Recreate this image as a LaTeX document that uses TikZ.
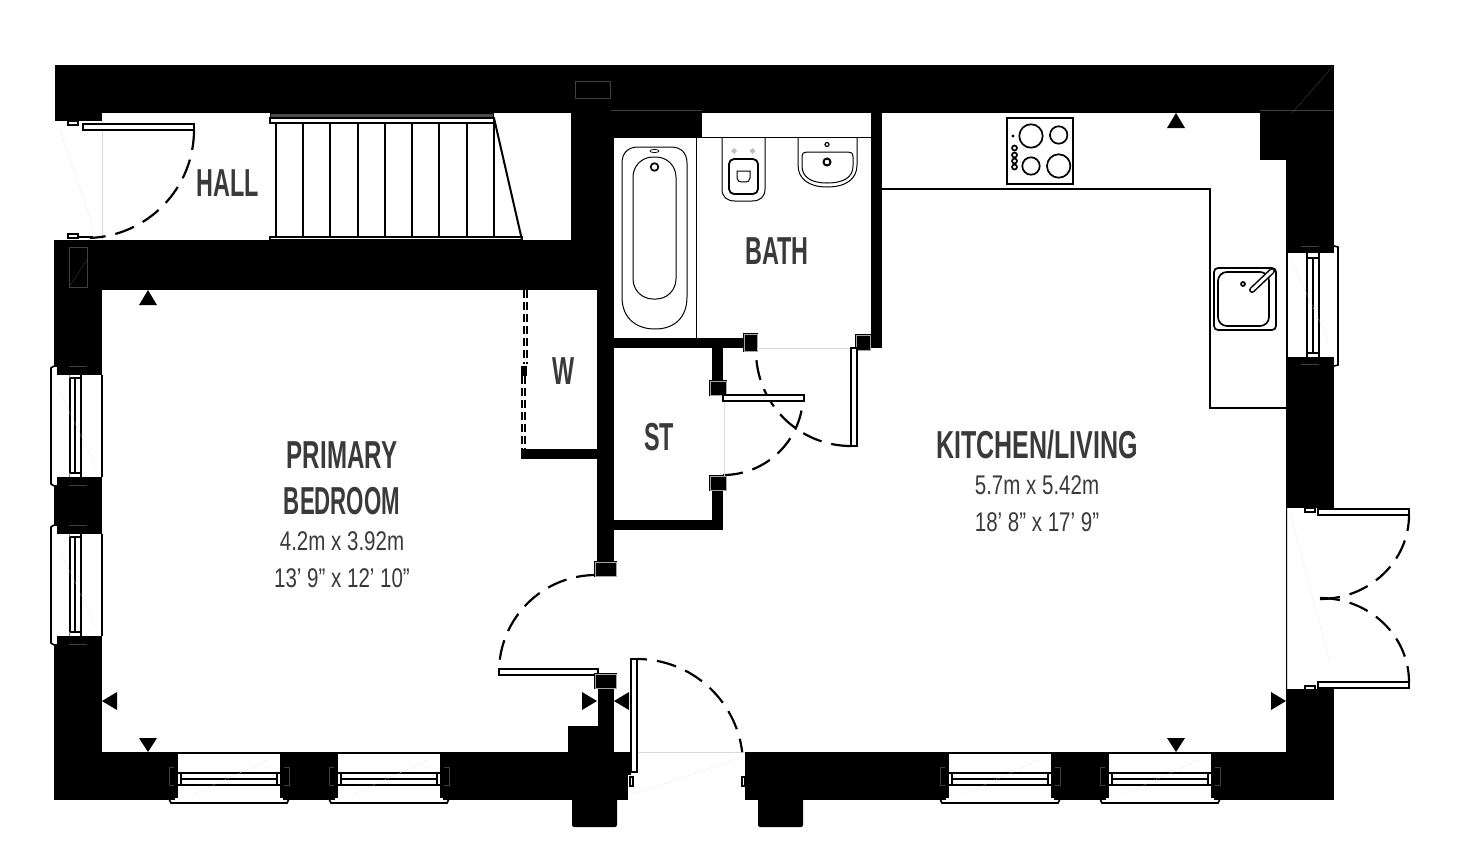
\documentclass[tikz,border=0pt]{standalone}
\usepackage{fontspec}
\newfontfamily\titlefont[FakeStretch=0.6]{Liberation Sans}
\newfontfamily\sizefont[FakeStretch=0.76]{Liberation Sans}
\definecolor{labelgrey}{HTML}{3A3A3A}
\tikzset{
	wall/.style={fill=black},
	opening/.style={fill=white},
	leaf/.style={draw=black, fill=white, line width=2.2},
	swing/.style={line width=2.2, dash pattern=on 20 off 10},
	jamb/.style={draw=black, fill=black, line width=0.8, double=gray!70, double distance=0.8},
	notch/.style={draw=black, fill=white, line width=1.5},
	detail/.style={draw=gray!50!black, line width=0.4},
	faint/.style={draw=gray!30, line width=0.7},
	trace/.style={draw=gray!30, line width=0.5, densely dotted},
	fitting/.style={draw=black, line width=1.7},
	glass/.style={draw=black, line width=1.6},
	marker/.style={fill=black},
	roomtitle/.style={inner sep=0, text=labelgrey, font=\titlefont\bfseries\fontsize{39}{39}\selectfont},
	roomsize/.style={inner sep=0, text=labelgrey, font=\sizefont\fontsize{27}{27}\selectfont}
}

\begin{document}
\begin{tikzpicture}[x=1pt, y=-1pt]
	\useasboundingbox (0,0) rectangle (1467,847);
	\fill[white] (0,0) rectangle (1467,847);

	% outer walls
	\fill[wall] (55,65) rectangle (1334,113);
	\fill[wall] (55,113) rectangle (102,121);
	\fill[wall] (54,240) rectangle (102,800);
	\fill[wall] (1286,65) rectangle (1334,800);
	\fill[wall] (54,752) rectangle (631,800);
	\fill[wall] (745,752) rectangle (1334,800);
	\fill[wall, rounded corners=2] (572,790) rectangle (617,827);
	\fill[wall, rounded corners=2] (758,790) rectangle (803,827);

	% inner walls
	\fill[wall] (54,240) rectangle (614,290);
	\fill[wall] (571,113) rectangle (614,290);
	\fill[wall] (611,113) rectangle (702,138);
	\fill[wall] (597,290) rectangle (614,575);
	\fill[wall] (521,449) rectangle (597,459);
	\fill[wall] (614,338) rectangle (757,348);
	\fill[wall] (871,113) rectangle (882,348);
	\fill[wall] (858,338) rectangle (882,348);
	\fill[wall] (712,348) rectangle (723,395);
	\fill[wall] (712,477) rectangle (723,530);
	\fill[wall] (614,520) rectangle (723,530);
	\fill[wall] (598,675) rectangle (614,752);
	\fill[wall] (568,726) rectangle (598,752);
	\fill[wall] (1260,113) rectangle (1286,160);

	% flue, wall details
	\draw[detail, line width=0.7] (575,81) rectangle (610,98);
	\draw[detail] (611,110) -- (702,110);
	\draw[detail] (1260,110) -- (1333,110);
	\draw[detail] (1292,113) -- (1333,66);
	\draw[detail] (69,247) rectangle (87,287);
	\draw[detail] (69,287) -- (87,260);

	% windows, bottom
	\foreach \wx in {178,338,949,1109} {
		\fill[opening] (\wx,753) rectangle (\wx+102,803);
		\fill[opening] (\wx-3,798) rectangle (\wx+105,803);
		\fill[opening] (\wx-9,800) rectangle (\wx+111,803);
		\draw[glass] (\wx,753) -- (\wx+102,753);
		\draw[glass] (\wx-9,799) -- (\wx-7,803) -- (\wx+109,803) -- (\wx+111,799);
		\draw[glass] (\wx,773) -- (\wx+102,773);
		\draw[glass] (\wx+3,779) -- (\wx+99,779);
		\draw[glass] (\wx,785) -- (\wx+102,785);
		\draw[glass] (\wx+3,773) -- (\wx+3,785);
		\draw[glass] (\wx+99,773) -- (\wx+99,785);
		\draw[trace] (\wx+16,794) -- (\wx+92,759);
		\draw[detail] (\wx-4,767) -- (\wx-9,767) -- (\wx-9,785) -- (\wx-4,785);
		\draw[detail] (\wx+106,767) -- (\wx+111,767) -- (\wx+111,785) -- (\wx+106,785);
	}

	% windows, left
	\foreach \wy in {375,534} {
		\fill[opening] (57,\wy) rectangle (102,\wy+102);
		\fill[opening] (52,\wy-8) rectangle (57,\wy+110);
		\draw[glass] (54,\wy-9) -- (51,\wy-7) -- (51,\wy+109) -- (54,\wy+111);
		\draw[glass] (102,\wy) -- (102,\wy+102);
		\draw[line width=0.9, draw=gray] (69,\wy) -- (69,\wy+102);
		\draw[glass] (70,\wy+3) -- (81,\wy+3);
		\draw[glass] (70,\wy+98) -- (81,\wy+98);
		\draw[glass] (70,\wy+3) -- (70,\wy+98);
		\draw[glass] (75,\wy+3) -- (75,\wy+98);
		\draw[glass] (81,\wy) -- (81,\wy+102);
		\draw[trace] (60,\wy+17) -- (96,\wy+92);
		\draw[detail] (69,\wy-9) -- (87,\wy-9);
		\draw[detail] (69,\wy+110) -- (87,\wy+110);
	}

	% window, right
	\fill[opening] (1287,253) rectangle (1334,357);
	\fill[opening] (1334,247) rectangle (1337,363);
	\draw[glass] (1287,253) -- (1287,357);
	\draw[glass] (1334,246) -- (1338,247) -- (1338,365) -- (1334,366);
	\draw[glass] (1307,253) -- (1307,357);
	\draw[glass] (1313,258) -- (1313,353);
	\draw[glass] (1319,253) -- (1319,357);
	\draw[glass] (1307,258) -- (1319,258);
	\draw[glass] (1307,353) -- (1319,353);
	\draw[trace] (1292,262) -- (1329,342);
	\draw[detail] (1301,246) -- (1319,246);
	\draw[detail] (1301,364) -- (1319,364);

	% garden doors
	\fill[opening] (1287,508) rectangle (1340,689);
	\draw[faint] (1287,508) -- (1287,689);
	\draw[trace] (1290,512) -- (1329,660);
	\draw[notch] (1305,508) rectangle (1315,512);
	\draw[notch] (1305,686) rectangle (1315,690);
	\draw[swing] (1320,599) arc[start angle=90, end angle=0, x radius=89, y radius=84];
	\draw[swing] (1320,598) arc[start angle=-90, end angle=0, x radius=89, y radius=84];
	\draw[leaf] (1318,509) rectangle (1409,515);
	\draw[leaf] (1318,682) rectangle (1409,688);

	% front door
	\fill[opening] (55,121) rectangle (102,240);
	\draw[faint] (102,121) -- (102,240);
	\draw[trace] (60,130) -- (97,238);
	\draw[notch] (68,121) rectangle (78,125);
	\draw[notch] (68,234) rectangle (78,238);
	\draw[leaf] (83,124) rectangle (194,130);
	\draw[swing] (194,130) arc[start angle=0, end angle=88, radius=108];
	\draw[line width=2] (78,237) -- (93,237);

	% entrance door
	\fill[opening] (631,752) rectangle (745,800);
	\fill[opening] (628,775) rectangle (631,800);
	\draw[faint] (637,752) -- (745,752);
	\draw[trace] (630,795) -- (743,757);
	\draw[notch] (630,777) rectangle (633,786);
	\draw[notch] (742,777) rectangle (745,786);
	\draw[swing, dash phase=10] (637,659) arc[start angle=-90, end angle=-7, radius=106];
	\draw[leaf] (631,659) rectangle (637,772);

	% bedroom door
	\draw[swing] (596,575) arc[start angle=270, end angle=180, radius=97];
	\draw[jamb] (595,562) rectangle (616,576);
	\draw[leaf] (499,669) rectangle (598,675);
	\draw[jamb] (595,674) rectangle (616,688);

	% bath door
	\draw[swing] (851,446) arc[start angle=90, end angle=180, radius=95];
	\draw[jamb] (744,334) rectangle (757,351);
	\draw[jamb] (856,335) rectangle (870,350);
	\draw[faint] (757,348) -- (851,348);
	\draw[leaf] (851,348) rectangle (857,446);

	% store door
	\draw[swing] (723,475) arc[start angle=90, end angle=0, radius=80];
	\draw[jamb] (710,381) rectangle (726,395);
	\draw[jamb] (710,476) rectangle (726,490);
	\draw[faint] (724,401) -- (724,476);
	\draw[leaf] (723,395) rectangle (804,401);

	% wardrobe doors
	\draw[line width=2, dash pattern=on 8 off 4] (523.5,290) -- (523.5,364);
	\draw[line width=2, dash pattern=on 8 off 4] (526.5,290) -- (526.5,364);
	\draw[line width=2, dash pattern=on 8 off 4] (521.5,376) -- (521.5,449);
	\draw[line width=2, dash pattern=on 8 off 4] (524.5,376) -- (524.5,449);
	\fill[wall] (521,366) rectangle (527,376);

	% stairs
	\draw[line width=0.8, fill=gray!60!black] (270,113) rectangle (493,118);
	\draw[leaf] (270,118) rectangle (494,123);
	\foreach \tx in {276,303,330,358,385,412,439,467,494}
		\draw[line width=2] (\tx,123) -- (\tx,238);
	\draw[leaf, line width=1.5] (270,237) rectangle (522,240);
	\draw[line width=2] (494,118) -- (522,240);

	% counter
	\draw[line width=2.2] (882,189) -- (1210,189) -- (1210,408) -- (1286,408);

	% hob
	\draw[fitting, line width=2] (1007,118) rectangle (1073,184);
	\draw[fitting] (1031,136) circle [radius=11.7];
	\draw[fitting] (1058.7,135) circle [radius=8.7];
	\draw[fitting] (1031,166) circle [radius=8.7];
	\draw[fitting] (1058.7,166) circle [radius=11.7];
	\fill (1013,136) circle [radius=1.7];
	\foreach \ky in {148,155,161,167}
		\draw[fitting] (1014.5,\ky) circle [radius=2.5];

	% kitchen sink
	\draw[fitting, rounded corners=4] (1214,268) rectangle (1276,330);
	\draw[fitting, rounded corners=9] (1218,272) rectangle (1269,326);
	\draw[line width=6, line cap=round] (1252,290) -- (1272,271);
	\draw[line width=3, white, line cap=round] (1252,290) -- (1272,271);
	\draw[fitting] (1243,284) circle [radius=2];

	% bath room fittings
	\draw[line width=1] (702,137) -- (871,137);
	\draw[line width=1] (696,138) -- (696,338);
	\draw[line width=1] (638,147) -- (671,147) .. controls (681,147) and (687,153) .. (687,163) -- (687,297) .. controls (687,318) and (674,329) .. (655,329) .. controls (636,329) and (622,318) .. (622,297) -- (622,163) .. controls (622,153) and (628,147) .. (638,147) -- cycle;
	\draw[line width=1, rounded corners=20] (633,157) rectangle (676,299);
	\draw[fitting] (654.5,167) circle [radius=3.8];
	\draw[line width=0.7] (654.5,151) ellipse [x radius=4.5, y radius=1.6];

	% toilet
	\draw[line width=1] (722,137) -- (722,189) .. controls (722,197) and (727,201) .. (735,201) -- (752,201) .. controls (760,201) and (765,197) .. (765,189) -- (765,137);
	\draw[fitting, line width=1.8, rounded corners=5] (729,159) rectangle (758,194);
	\draw[line width=1] (737,171) -- (750,171) -- (750,178) .. controls (750,181) and (748,182) .. (744,182) .. controls (739,182) and (737,181) .. (737,178) -- cycle;
	\fill[gray!50] (734,148) -- (737,151) -- (734,154) -- (731,151) -- cycle;
	\fill[gray!50] (752.5,148) -- (755.5,151) -- (752.5,154) -- (749.5,151) -- cycle;

	% basin
	\draw[line width=1] (798,137) -- (798,165) .. controls (798,179) and (809,187) .. (827,187) .. controls (846,187) and (857,179) .. (857,165) -- (857,137);
	\draw[line width=1] (802,157) .. controls (802,153) and (804,152) .. (807,152) -- (848,152) .. controls (851,152) and (853,153) .. (853,157) -- (853,166) .. controls (853,177) and (844,183) .. (827,183) .. controls (811,183) and (802,177) .. (802,166) -- cycle;
	\draw[fitting, line width=1.2] (827,144.5) circle [radius=2];
	\draw[fitting, line width=2] (827,162) circle [radius=3.5];

	% view markers
	\fill[marker] (148,290) -- (157,305) -- (139,305) -- cycle;
	\fill[marker] (1176,113) -- (1185,128) -- (1167,128) -- cycle;
	\fill[marker] (148,752) -- (157,738) -- (139,738) -- cycle;
	\fill[marker] (1176,752) -- (1185,738) -- (1167,738) -- cycle;
	\fill[marker] (102,701) -- (117,692) -- (117,710) -- cycle;
	\fill[marker] (597,701) -- (582,692) -- (582,710) -- cycle;
	\fill[marker] (614,701) -- (629,692) -- (629,710) -- cycle;
	\fill[marker] (1286,701) -- (1271,692) -- (1271,710) -- cycle;

	% room labels
	\node[roomtitle] (hall) at (228,183) {HALL};
	\node[roomtitle] (bath) at (777,251) {BATH};
	\node[roomtitle] (wardrobe) at (564,371) {W};
	\node[roomtitle] (store) at (659,437) {ST};
	\node[roomtitle] (primary) at (342,455) {\scalebox{1.03}[1]{PRIMARY}};
	\node[roomtitle] (bedroom) at (342,501) {\scalebox{0.95}[1]{BEDROOM}};
	\node[roomsize] (bedmetric) at (342,541) {4.2m x 3.92m};
	\node[roomsize] (bedimperial) at (342,578) {13’ 9” x 12’ 10”};
	\node[roomtitle] (kitchen) at (1037,445) {\scalebox{1.07}[1]{KITCHEN/LIVING}};
	\node[roomsize] (kitmetric) at (1037,485) {5.7m x 5.42m};
	\node[roomsize] (kitimperial) at (1037,522) {18’ 8” x 17’ 9”};
\end{tikzpicture}
\end{document}
